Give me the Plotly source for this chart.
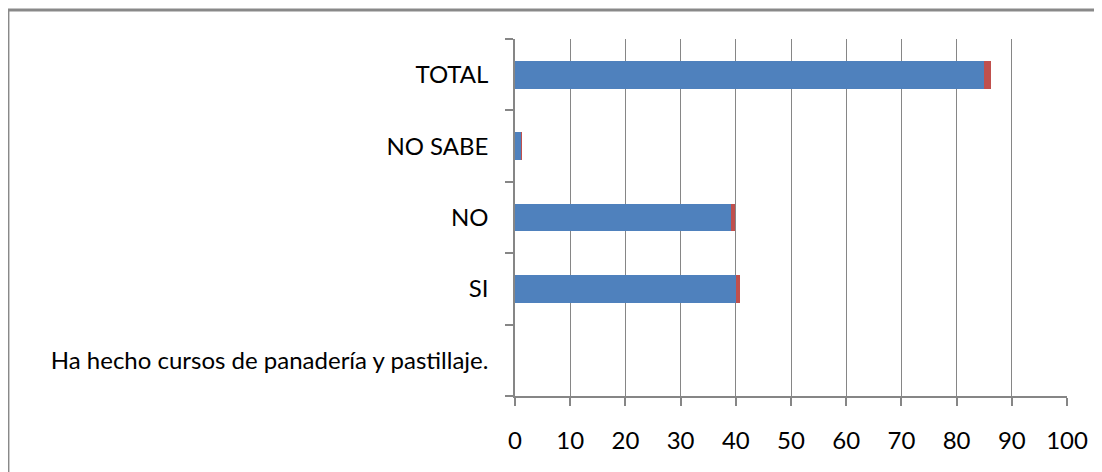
import plotly.graph_objects as go

categories = ["Ha hecho cursos de panadería y pastillaje.", "SI", "NO", "NO SABE", "TOTAL"]
serie_azul = [None, 40.0, 39.2, 1.1, 85.0]
serie_roja = [None, 0.7, 0.6, 0.15, 1.3]
x_ticks = [0, 10, 20, 30, 40, 50, 60, 70, 80, 90, 100]

BLUE = "#4F81BD"
RED = "#C0504D"
GRID = "#868686"
FONT = "Lato"

fig = go.Figure()
fig.add_trace(go.Bar(y=categories, x=serie_azul, orientation="h",
                     marker=dict(color=BLUE, line=dict(width=0)), name="Serie 1"))
fig.add_trace(go.Bar(y=categories, x=serie_roja, orientation="h",
                     marker=dict(color=RED, line=dict(width=0)), name="Serie 2"))

fig.update_layout(
    width=1102, height=472,
    barmode="stack", bargap=0.61,
    showlegend=False,
    plot_bgcolor="white", paper_bgcolor="white",
    margin=dict(l=507, r=43, t=31, b=84),
    font=dict(family=FONT, size=24, color="black"),
)
fig.update_xaxes(
    range=[0, 100], tickvals=x_ticks, ticktext=[str(v) for v in x_ticks],
    showgrid=True, gridcolor=GRID, gridwidth=1.3,
    showline=True, linecolor=GRID, linewidth=1.5,
    ticks="outside", ticklen=8, tickcolor=GRID, tickwidth=1.5,
    ticklabelstandoff=14, zeroline=False,
    tickfont=dict(family=FONT, size=24, color="black"),
)
fig.update_yaxes(
    type="category", categoryorder="array", categoryarray=categories,
    showgrid=False, tickson="boundaries",
    showline=True, linecolor=GRID, linewidth=1.5,
    ticks="outside", ticklen=8, tickcolor=GRID, tickwidth=1.5,
    ticklabelstandoff=20,
    tickfont=dict(family=FONT, size=24, color="black"),
)

# chart frame (top and left edges visible in the reference)
fig.add_shape(type="line", xref="paper", yref="paper",
              x0=-0.9186, x1=1.1, y0=1.0812, y1=1.0812,
              line=dict(color="#898989", width=3))
fig.add_shape(type="line", xref="paper", yref="paper",
              x0=-0.9186, x1=-0.9186, y0=1.0812, y1=-0.3,
              line=dict(color="#898989", width=3))

fig.write_html("out.html")
